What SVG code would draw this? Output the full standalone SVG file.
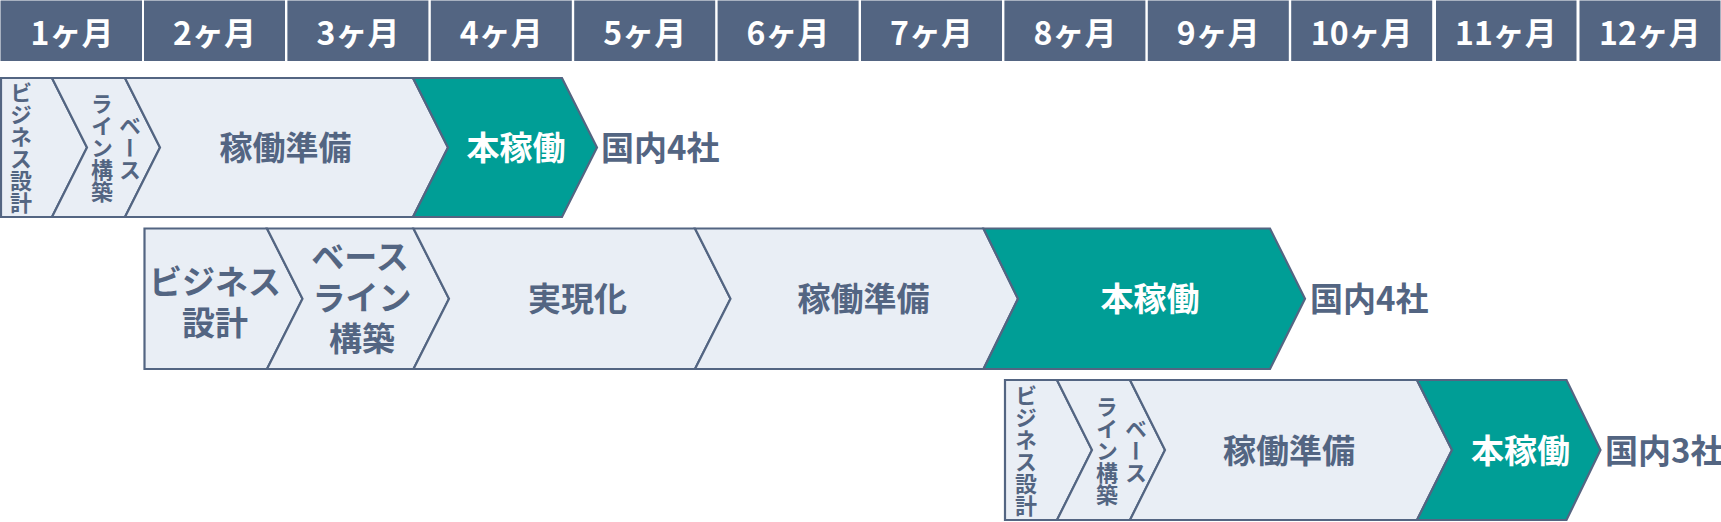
<svg xmlns="http://www.w3.org/2000/svg" width="1721" height="522" viewBox="0 0 1721 522">
<style>
.hd{fill:#536582}
.ht{fill:#ffffff;font-family:"Noto Sans CJK JP","Noto Sans",sans-serif;font-weight:700;font-size:32px;text-anchor:middle}
.ph{fill:#e9eef5;stroke:#536582;stroke-width:2.2;stroke-linejoin:miter}
.go{fill:#009e96;stroke:#536582;stroke-width:2.2;stroke-linejoin:miter}
.lb{fill:#536582;font-family:"Noto Sans CJK JP","Noto Sans",sans-serif;font-weight:700;font-size:33px;text-anchor:middle}
.lw{fill:#ffffff;font-family:"Noto Sans CJK JP","Noto Sans",sans-serif;font-weight:700;font-size:33px;text-anchor:middle}
.rs{fill:#536582;font-family:"Noto Sans CJK JP","Noto Sans",sans-serif;font-weight:700;font-size:33px;text-anchor:start}
.vt{fill:#536582;font-family:"Noto Sans CJK JP","Noto Sans",sans-serif;font-weight:700;font-size:22px;text-anchor:middle;writing-mode:vertical-rl}
</style>
<rect width="1721" height="522" fill="#ffffff"/>
<g id="header">
<rect class="hd" x="0.5" y="0.5" width="141.5" height="60.5"/>
<rect class="hd" x="144" y="0.5" width="141" height="60.5"/>
<rect class="hd" x="287.4" y="0.5" width="141" height="60.5"/>
<rect class="hd" x="430.8" y="0.5" width="141" height="60.5"/>
<rect class="hd" x="574.2" y="0.5" width="141" height="60.5"/>
<rect class="hd" x="717.6" y="0.5" width="141" height="60.5"/>
<rect class="hd" x="861" y="0.5" width="141" height="60.5"/>
<rect class="hd" x="1004.4" y="0.5" width="141" height="60.5"/>
<rect class="hd" x="1147.8" y="0.5" width="141" height="60.5"/>
<rect class="hd" x="1291.2" y="0.5" width="141" height="60.5"/>
<rect class="hd" x="1436" y="0.5" width="140.5" height="60.5"/>
<rect class="hd" x="1579.5" y="0.5" width="141" height="60.5"/>
<text class="ht" x="72" y="44.5">1ヶ月</text>
<text class="ht" x="214.5" y="44.5">2ヶ月</text>
<text class="ht" x="358" y="44.5">3ヶ月</text>
<text class="ht" x="501.3" y="44.5">4ヶ月</text>
<text class="ht" x="644.7" y="44.5">5ヶ月</text>
<text class="ht" x="788" y="44.5">6ヶ月</text>
<text class="ht" x="931.5" y="44.5">7ヶ月</text>
<text class="ht" x="1075" y="44.5">8ヶ月</text>
<text class="ht" x="1218.3" y="44.5">9ヶ月</text>
<text class="ht" x="1361.7" y="44.5">10ヶ月</text>
<text class="ht" x="1506" y="44.5">11ヶ月</text>
<text class="ht" x="1650" y="44.5">12ヶ月</text>
</g>
<g id="connectors"></g>
<g id="row1">
<g id="r1-business">
<polygon class="ph" points="1,78 52,78 87,147.5 52,217 1,217"/>
<text class="vt" x="21" y="147.5">ビジネス設計</text>
</g>
<g id="r1-baseline">
<polygon class="ph" points="52,78 125,78 160,147.5 125,217 52,217 87,147.5"/>
<text class="vt" x="130" y="147.5">ベース</text>
<text class="vt" x="102" y="147.5">ライン構築</text>
</g>
<g id="r1-prep">
<polygon class="ph" points="125,78 413,78 448,147.5 413,217 125,217 160,147.5"/>
<text class="lb" x="285.5" y="159.5">稼働準備</text>
</g>
<g id="r1-live">
<polygon class="go" points="413,78 562,78 597,147.5 562,217 413,217 448,147.5"/>
<text class="lw" x="516" y="159.5">本稼働</text>
</g>
<text id="r1-result" class="rs" x="601" y="159.5">国内4社</text>
</g>
<g id="row2">
<g id="r2-business">
<polygon class="ph" points="144.5,228.5 267,228.5 302.5,298.7 267,369 144.5,369"/>
<text class="lb" x="215"><tspan x="215" y="293.5">ビジネス</tspan><tspan x="215" y="334.5">設計</tspan></text>
</g>
<g id="r2-baseline">
<polygon class="ph" points="267,228.5 413.5,228.5 449,298.7 413.5,369 267,369 302.5,298.7"/>
<text class="lb" x="361"><tspan x="360" y="269">ベース</tspan><tspan x="362" y="310">ライン</tspan><tspan x="362" y="351">構築</tspan></text>
</g>
<g id="r2-realize">
<polygon class="ph" points="413.5,228.5 695,228.5 730.5,298.7 695,369 413.5,369 449,298.7"/>
<text class="lb" x="577.5" y="311">実現化</text>
</g>
<g id="r2-prep">
<polygon class="ph" points="695,228.5 983.5,228.5 1018,298.7 983.5,369 695,369 730.5,298.7"/>
<text class="lb" x="863.5" y="311">稼働準備</text>
</g>
<g id="r2-live">
<polygon class="go" points="983.5,228.5 1270,228.5 1305,298.7 1270,369 983.5,369 1018,298.7"/>
<text class="lw" x="1150" y="311">本稼働</text>
</g>
<text id="r2-result" class="rs" x="1310" y="311">国内4社</text>
</g>
<g id="row3">
<g id="r3-business">
<polygon class="ph" points="1005,380 1057,380 1092,450 1057,520 1005,520"/>
<text class="vt" x="1026" y="451">ビジネス設計</text>
</g>
<g id="r3-baseline">
<polygon class="ph" points="1057,380 1130,380 1165,450 1130,520 1057,520 1092,450"/>
<text class="vt" x="1136" y="451">ベース</text>
<text class="vt" x="1107" y="451">ライン構築</text>
</g>
<g id="r3-prep">
<polygon class="ph" points="1130,380 1417,380 1452,450 1417,520 1130,520 1165,450"/>
<text class="lb" x="1289" y="462.5">稼働準備</text>
</g>
<g id="r3-live">
<polygon class="go" points="1417,380 1566.5,380 1600.5,450 1566.5,520 1417,520 1452,450"/>
<text class="lw" x="1520.5" y="462.5">本稼働</text>
</g>
<text id="r3-result" class="rs" x="1605" y="462.5">国内3社</text>
</g>
</svg>
